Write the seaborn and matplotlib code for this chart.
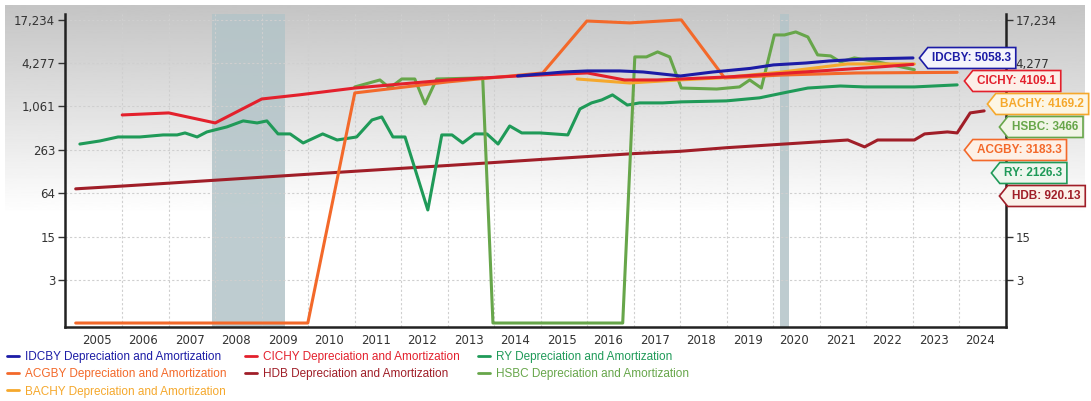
import numpy as np
import pandas as pd
import seaborn as sns
import matplotlib.pyplot as plt
from matplotlib.path import Path
from matplotlib.lines import Line2D

# ---- data ----
idcby_x = [2014.5, 2015.0, 2015.5, 2016.0, 2016.7, 2017.2, 2018.0, 2018.7, 2019.5, 2020.0,
           2020.7, 2021.2, 2022.0, 2023.0]
idcby_y = [2830, 3020, 3220, 3330, 3330, 3220, 2830, 3220, 3610, 4040, 4300, 4590, 4900, 5058.3]

cichy_x = [2006.0, 2007.0, 2008.0, 2009.0, 2009.8, 2011.0, 2012.0, 2013.0, 2014.5, 2016.0,
           2016.8, 2017.5, 2018.0, 2019.0, 2020.0, 2021.0, 2022.0, 2023.0]
cichy_y = [807, 862, 624, 1350, 1540, 1920, 2190, 2490, 2830, 3120, 2490, 2490, 2570, 2740,
           3020, 3330, 3670, 4109.1]

ry_x = [2005.09, 2005.52, 2005.91, 2006.38, 2006.88, 2007.18, 2007.35, 2007.61, 2007.82, 2008.25,
        2008.60, 2008.90, 2009.11, 2009.35, 2009.61, 2009.89, 2010.31, 2010.62, 2011.04, 2011.37,
        2011.58, 2011.82, 2012.08, 2012.57, 2012.87, 2013.09, 2013.32, 2013.58, 2013.84, 2014.08,
        2014.33, 2014.59, 2014.98, 2015.58, 2015.84, 2016.09, 2016.31, 2016.54, 2016.86, 2017.12,
        2017.62, 2018.02, 2018.99, 2019.70, 2020.31, 2020.74, 2021.44, 2021.96, 2023.03, 2023.95]
ry_y = [316, 349, 397, 397, 424, 424, 452, 397, 467, 549,
        666, 624, 666, 438, 438, 327, 438, 360, 397, 687,
        757, 397, 397, 37, 424, 424, 327, 438, 438, 316,
        566, 452, 452, 424, 980, 1190, 1310, 1540, 1110, 1190,
        1190, 1230, 1270, 1400, 1690, 1920, 2050, 1990, 1990, 2126.3]

acgby_x = [2005.0, 2009.99, 2011.0, 2013.0, 2015.04, 2015.99, 2016.91, 2017.98, 2018.02,
           2018.95, 2020.19, 2021.8, 2023.95]
acgby_y = [0, 0, 1640, 2340, 3120, 16600, 15620, 17180, 17180, 2660, 2920, 3120, 3183.3]

hdb_x = [2005, 2006, 2007, 2008, 2009, 2010, 2011, 2012, 2013, 2014, 2015, 2016, 2017, 2018,
         2019, 2020, 2021, 2021.6, 2021.96, 2022.24, 2023.03, 2023.25, 2023.74, 2023.95,
         2024.23, 2024.53]
hdb_y = [74, 81, 89, 98, 108, 119, 131, 144, 158, 174, 192, 211, 232, 250,
         281, 309, 340, 360, 288, 360, 360, 438, 467, 452, 862, 920.13]

hsbc_x = [2011.0, 2011.54, 2011.75, 2012.01, 2012.29, 2012.51, 2012.76, 2013.75, 2013.97,
          2016.76, 2017.02, 2017.27, 2017.51, 2017.77, 2018.02, 2018.78, 2019.27, 2019.49,
          2019.74, 2020.02, 2020.24, 2020.48, 2020.74, 2020.95, 2021.23, 2021.44, 2021.74,
          2022.24, 2023.03]
hsbc_y = [1990, 2490, 1920, 2570, 2570, 1150, 2570, 2660, 0,
          0, 5230, 5230, 6140, 5230, 1920, 1860, 1990, 2490,
          1920, 10600, 10600, 11680, 9940, 5580, 5400, 4450, 5060,
          4450, 3466]

bachy_x = [2015.78, 2016.91, 2017.98, 2018.85, 2020.19, 2021.59, 2023.03]
bachy_y = [2570, 2260, 2490, 2660, 3220, 4170, 4169.2]

y_ticks = [3, 15, 64, 263, 1061, 4277, 17234]
years = list(range(2005, 2025))
recessions = [(2007.92, 2009.5), (2020.15, 2020.33)]

series = {
    "HDB": (hdb_x, hdb_y), "RY": (ry_x, ry_y), "HSBC": (hsbc_x, hsbc_y),
    "ACGBY": (acgby_x, acgby_y), "BACHY": (bachy_x, bachy_y),
    "CICHY": (cichy_x, cichy_y), "IDCBY": (idcby_x, idcby_y),
}
colors = {
    "IDCBY": "#1c1ca6", "CICHY": "#e3202c", "RY": "#1f9a58", "ACGBY": "#f3692a",
    "HDB": "#a01e28", "HSBC": "#67a64a", "BACHY": "#f5a82c",
}
last_values = {"IDCBY": "5058.3", "CICHY": "4109.1", "BACHY": "4169.2", "HSBC": "3466",
               "ACGBY": "3183.3", "RY": "2126.3", "HDB": "920.13"}

df = pd.concat([pd.DataFrame({"ticker": k, "year": v[0], "value": v[1]})
                for k, v in series.items()], ignore_index=True)

sns.set_theme(style="white")
plt.rcParams["font.family"] = ["DejaVu Sans"]

W, H = 1091, 401
fig = plt.figure(figsize=(W / 100, H / 100), dpi=100)

# grey gradient behind the top part
bg = fig.add_axes([5 / W, 1 - 215 / H, 1080 / W, 210 / H], zorder=-10)
grad = np.linspace(0.77, 1.0, 256).reshape(-1, 1)
bg.imshow(grad, cmap="gray", vmin=0, vmax=1, aspect="auto", extent=(0, 1, 0, 1))
bg.set_axis_off()

ax = fig.add_axes([65 / W, 1 - 327 / H, (1006 - 65) / W, (327 - 14) / H])
ax.patch.set_alpha(0)

fwd = lambda v: np.log1p(np.clip(v, -0.99, None))
inv = np.expm1
ax.set_yscale("function", functions=(fwd, inv))

for a, b in recessions:
    ax.axvspan(a, b, color="#b3c4c8", alpha=0.85, lw=0, zorder=0.5)

sns.lineplot(data=df, x="year", y="value", hue="ticker", hue_order=list(series),
             palette=colors, estimator=None, sort=False, lw=2.2, legend=False, ax=ax)

ax.set_xlim(2004.77, 2025.0)
ax.set_ylim(-0.12, 20800)
ax.set_yticks(y_ticks)
ax.set_yticklabels([f"{t:,}" for t in y_ticks])
ax.set_xticks([y + 0.45 for y in years])
ax.set_xticklabels([str(y) for y in years])
ax.set_xticks(years[1:], minor=True)
ax.set_xlabel("")
ax.set_ylabel("")

ax.grid(which="minor", axis="x", color="#cfcfcf", lw=0.8, ls=(0, (2, 2)))
ax.grid(which="major", axis="y", color="#cfcfcf", lw=0.8, ls=(0, (2, 2)))
ax.grid(which="major", axis="x", visible=False)
ax.set_axisbelow(True)

ax.tick_params(axis="y", which="major", length=5, width=1, color="#333333",
               labelsize=8.5, labelcolor="#333333", pad=2, left=True)
ax.tick_params(axis="x", which="both", length=0, labelsize=8.5, labelcolor="#333333", pad=5)
for s in ["left", "bottom"]:
    ax.spines[s].set_color("#222222")
    ax.spines[s].set_linewidth(1.8)
ax.spines["top"].set_visible(False)
ax.spines["right"].set_visible(False)

# right axis: the middle labels sit behind the value flags
ax2 = ax.twinx()
ax2.set_yscale("function", functions=(fwd, inv))
ax2.set_ylim(ax.get_ylim())
ax2.set_yticks(y_ticks)
ax2.set_yticklabels([f"{t:,}" if t in (3, 15, 4277, 17234) else "" for t in y_ticks])
ax2.tick_params(axis="y", length=5, width=1, color="#333333", labelsize=8.5,
                labelcolor="#333333", pad=2, right=True)
ax2.grid(False)
for s in ["left", "bottom", "top"]:
    ax2.spines[s].set_visible(False)
ax2.spines["right"].set_color("#222222")
ax2.spines["right"].set_linewidth(1.8)


# flag shaped value labels
def tag_box(x0, y0, width, height, mutation_size):
    pad = 0.38 * mutation_size
    x0, y0 = x0 - pad, y0 - pad
    w, h = width + 2 * pad, height + 2 * pad
    tip = 0.4 * h
    verts = [(x0 - tip, y0 + h / 2), (x0, y0 + h), (x0 + w, y0 + h), (x0 + w, y0),
             (x0, y0), (x0 - tip, y0 + h / 2)]
    return Path(verts, closed=True)


fills = {"IDCBY": "#f4f4fb", "CICHY": "#fcefe8", "BACHY": "#fdf6e4", "HSBC": "#f1f5e6",
         "ACGBY": "#fdf0e6", "RY": "#eef6ee", "HDB": "#fbf1ea"}
tag_pos = {"IDCBY": (917, 58), "CICHY": (962, 81), "BACHY": (985, 104), "HSBC": (997, 127),
           "ACGBY": (962, 150), "RY": (989, 173), "HDB": (997, 196)}
for k, (px, py) in tag_pos.items():
    xf = (px - 65) / (1006 - 65)
    yf = (327 - py) / (327 - 14)
    ax2.annotate(f"{k}: {last_values[k]}", xy=(xf, yf), xycoords="axes fraction",
                 xytext=(11, 0), textcoords="offset points", ha="left", va="center",
                 fontsize=8.5, fontweight="bold", color=colors[k],
                 family=["Liberation Sans Narrow", "Liberation Sans", "DejaVu Sans"],
                 annotation_clip=False, zorder=5,
                 bbox=dict(boxstyle=tag_box, fc=fills[k], ec=colors[k], lw=1.2))

# legend
order = ["IDCBY", "ACGBY", "BACHY", "CICHY", "HDB", "RY", "HSBC"]
handles = [Line2D([], [], color=colors[k], lw=2) for k in order]
labels = [f"{k} Depreciation and Amortization" for k in order]
leg = fig.legend(handles, labels, loc="upper left", bbox_to_anchor=(7 / W, 1 - 351 / H),
                 ncol=3, frameon=False, handlelength=1.0, handletextpad=0.5,
                 columnspacing=1.6, labelspacing=0.45, borderaxespad=0, borderpad=0,
                 prop={"family": ["Liberation Sans", "DejaVu Sans"], "size": 8.5})
for t, k in zip(leg.get_texts(), order):
    t.set_color(colors[k])

fig.savefig("out.png", dpi=100)
